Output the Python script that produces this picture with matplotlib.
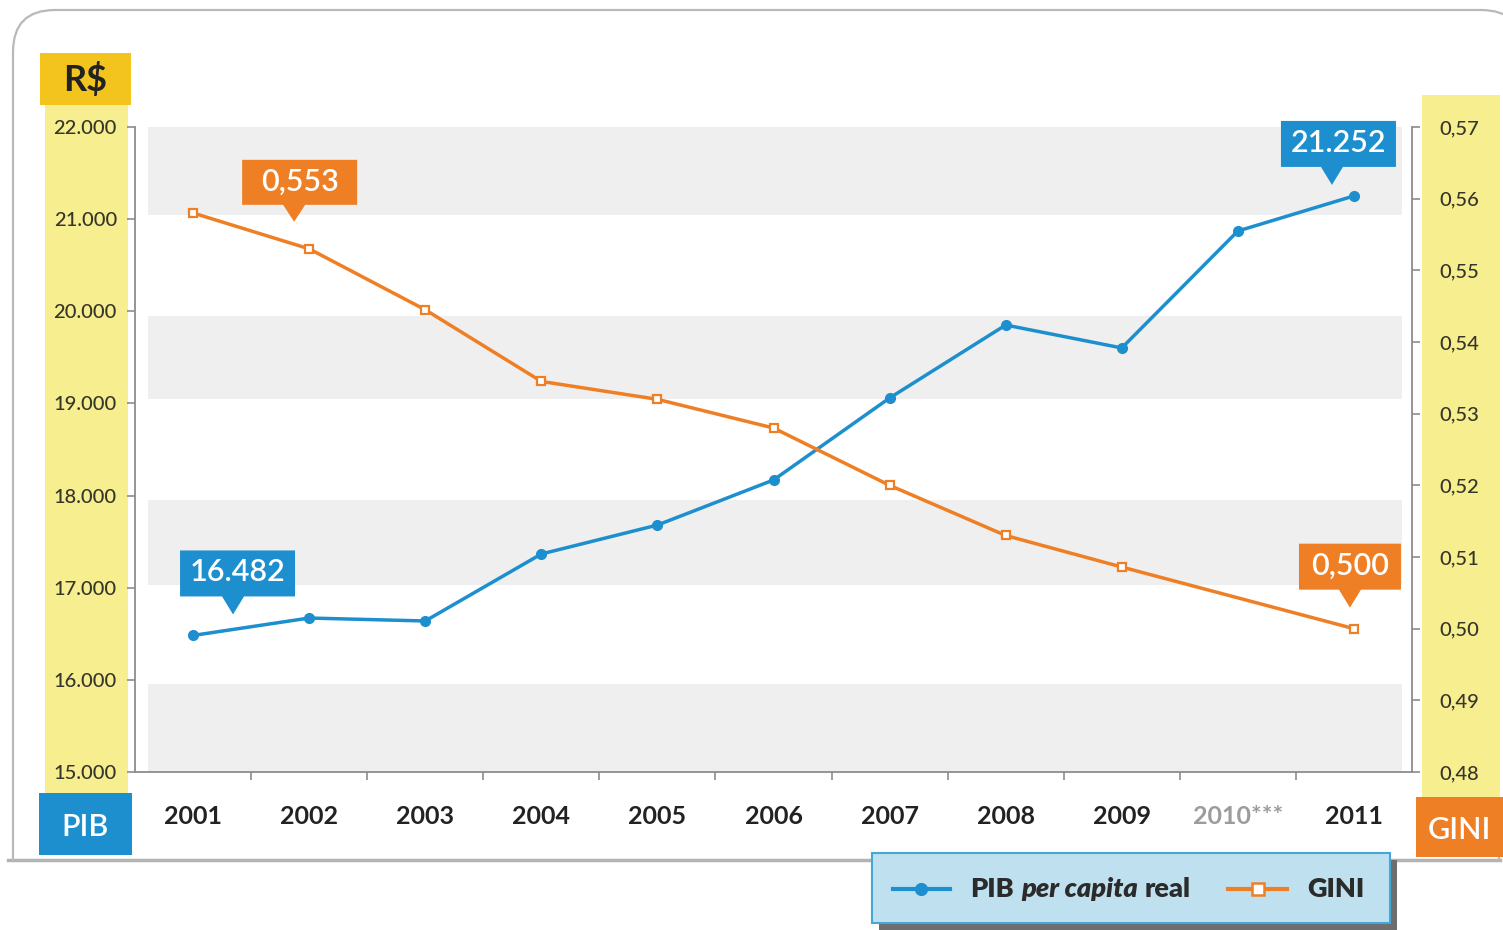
import matplotlib
matplotlib.use('Agg')
import matplotlib.pyplot as plt
import matplotlib.transforms as mtransforms
from matplotlib.patches import Rectangle, FancyBboxPatch, Polygon
from matplotlib.lines import Line2D
from matplotlib.ticker import FuncFormatter, MultipleLocator, FixedLocator

plt.rcParams['font.family'] = ['Lato', 'DejaVu Sans']

years = ['2001', '2002', '2003', '2004', '2005', '2006', '2007', '2008', '2009', '2010***', '2011']
pib = [16482, 16671, 16639, 17366, 17680, 18169, 19059, 19851, 19602, 20871, 21252]
gini = [0.558, 0.553, 0.5445, 0.5345, 0.532, 0.528, 0.520, 0.513, 0.5086, None, 0.500]

BLUE = '#1d8fcf'
ORANGE = '#ef7f24'
YELLOW = '#f7ee8f'
GOLD = '#f4c41e'
TXT = '#35352b'

W, H = 1503, 930
fig = plt.figure(figsize=(W / 100, H / 100), dpi=100)
fig.patch.set_facecolor('white')
# pixel coords, origin top-left
pix = mtransforms.Affine2D().scale(1 / W, -1 / H).translate(0, 1) + fig.transFigure


def fig_rect(x, y, w, h, color, z=-1):
    fig.patches.append(Rectangle((x, y), w, h, transform=pix, fc=color, ec='none', zorder=z))


# outer rounded frame, open at the bottom
frame = FancyBboxPatch((13, 10), 1510, 900, boxstyle='round,pad=0,rounding_size=42',
                       transform=pix, fill=False, ec='#b9b9b9', lw=1.6, zorder=-2)
frame.set_clip_box(mtransforms.Bbox.from_extents(0, H - 861, W, H))
fig.patches.append(frame)
fig.lines.append(Line2D([8, 1500], [860, 860], transform=pix, color='#b3b3b3', lw=2.5, zorder=-2))

# side columns and their headers
fig_rect(45, 105, 83, 690, YELLOW)
fig_rect(40, 53, 91, 52, GOLD, 2)
fig_rect(39, 793, 93, 62, BLUE, 2)
fig_rect(1422, 95, 78, 705, YELLOW)
fig_rect(1416, 797, 90, 60, ORANGE, 2)
fig.text(85.5 / W, 1 - 80 / H, 'R$', ha='center', va='center', fontsize=26, fontweight='bold', color='#222222')
fig.text(85.5 / W, 1 - 827 / H, 'PIB', ha='center', va='center', fontsize=22, fontweight='semibold', color='white')
fig.text(1459 / W, 1 - 830 / H, 'GINI', ha='center', va='center', fontsize=22, fontweight='semibold', color='white')

ax = fig.add_axes([135 / W, 1 - 772 / H, (1412 - 135) / W, (772 - 127) / H])
ax2 = ax.twinx()
x = list(range(len(years)))

ax.set_xlim(-0.5, len(years) - 0.5)
ax.set_ylim(15000, 22000)
ax2.set_ylim(0.48, 0.57)

for lo, hi in [(21050, 22000), (19050, 19950), (17030, 17950), (15000, 15950)]:
    ax.axhspan(lo, hi, xmin=0.01, xmax=0.992, color='#efefef', lw=0, zorder=0)

ax.plot(x, pib, color=BLUE, lw=2.5, marker='o', ms=7, zorder=3)
gx = [i for i, v in zip(x, gini) if v is not None]
gy = [v for v in gini if v is not None]
ax2.plot(gx, gy, color=ORANGE, lw=2.5, marker='s', ms=6, mfc='white', mec=ORANGE, mew=1.6, zorder=3)

for a in (ax, ax2):
    a.spines['top'].set_visible(False)
    for s in a.spines.values():
        s.set_color('#8c8c8c')
        s.set_linewidth(1.3)
ax.spines['right'].set_visible(False)
ax2.spines['left'].set_visible(False)
ax2.spines['bottom'].set_visible(False)

ax.yaxis.set_major_locator(MultipleLocator(1000))
ax.yaxis.set_major_formatter(FuncFormatter(lambda v, p: f'{int(v):,}'.replace(',', '.')))
ax.tick_params(axis='y', direction='out', length=6, width=1.2, color='#8c8c8c',
               labelsize=14.5, labelcolor=TXT, pad=7)
ax2.yaxis.set_major_locator(MultipleLocator(0.01))
ax2.yaxis.set_major_formatter(FuncFormatter(lambda v, p: f'{v:.2f}'.replace('.', ',')))
ax2.tick_params(axis='y', direction='out', length=6, width=1.2, color='#8c8c8c',
                labelsize=14.5, labelcolor=TXT, pad=14)
for lbl in ax.get_yticklabels() + ax2.get_yticklabels():
    lbl.set_fontweight('medium')

ax.xaxis.set_major_locator(FixedLocator(x))
ax.set_xticklabels(years)
ax.xaxis.set_minor_locator(FixedLocator([i + 0.5 for i in x[:-1]]))
ax.tick_params(axis='x', which='major', length=0, pad=24, labelsize=18, labelcolor='#222222')
ax.tick_params(axis='x', which='minor', direction='out', length=6, width=1.2, color='#8c8c8c')
for lbl in ax.get_xticklabels():
    lbl.set_fontweight('bold')
    if '*' in lbl.get_text():
        lbl.set_color('#9c9c9c')


def callout(axis, xi, yi, text, color, box, tip):
    # box = (left, right, bottom, top) in pixels from the point, tip = pointer end
    l, r, b, t = box
    tx, ty = tip
    trans = mtransforms.Affine2D() + mtransforms.ScaledTranslation(xi, yi, axis.transData)
    verts = [(l, b), (tx - 11, b), (tx, ty), (tx + 11, b), (r, b), (r, t), (l, t)]
    axis.add_patch(Polygon(verts, closed=True, transform=trans, fc=color, ec='none',
                           zorder=6, clip_on=False))
    axis.text((l + r) / 2, (b + t) / 2 + 1, text, transform=trans, ha='center', va='center',
              fontsize=22, fontweight='semibold', color='white', zorder=7, clip_on=False)


fmt_pib = lambda v: f'{v:,}'.replace(',', '.')
fmt_gini = lambda v: f'{v:.3f}'.replace('.', ',')
callout(ax2, 1, gini[1], fmt_gini(gini[1]), ORANGE, (-67, 48, 44, 89), (-15, 27))
callout(ax2, 10, gini[10], fmt_gini(gini[10]), ORANGE, (-55, 47, 39, 85), (-4, 21))
callout(ax, 0, pib[0], fmt_pib(pib[0]), BLUE, (-13, 102, 39, 85), (40, 21))
callout(ax, 10, pib[10], fmt_pib(pib[10]), BLUE, (-73, 42, 29, 75), (-22, 11))

# legend panel
fig_rect(879, 860, 518, 72, '#6e6e6e', 4)
fig.patches.append(Rectangle((872, 853), 518, 70, transform=pix, fc='#bfe1ef',
                             ec='#45a6d8', lw=1.5, zorder=5))
fig.lines.append(Line2D([893, 950], [889, 889], transform=pix, color=BLUE, lw=3, zorder=6))
fig.lines.append(Line2D([921], [889], transform=pix, color=BLUE, marker='o', ms=8.5, zorder=7))
fig.lines.append(Line2D([1228, 1287], [889, 889], transform=pix, color=ORANGE, lw=3, zorder=6))
fig.lines.append(Line2D([1258], [889], transform=pix, color=ORANGE, marker='s', ms=8.5,
                        mfc='white', mew=1.8, zorder=7))

renderer = fig.canvas.get_renderer()
cur = 970
for part, style in [('PIB', 'normal'), ('per capita', 'italic'), ('real', 'normal')]:
    t = fig.text(cur / W, 1 - 889 / H, part, ha='left', va='center', fontsize=19.5,
                 fontweight='heavy', fontstyle=style, color='#2b2b2b', zorder=7)
    bb = t.get_window_extent(renderer)
    cur = bb.x1 + 7
fig.text(1307 / W, 1 - 889 / H, 'GINI', ha='left', va='center', fontsize=19.5,
         fontweight='heavy', color='#2b2b2b', zorder=7)

fig.savefig('out.png', dpi=100)
